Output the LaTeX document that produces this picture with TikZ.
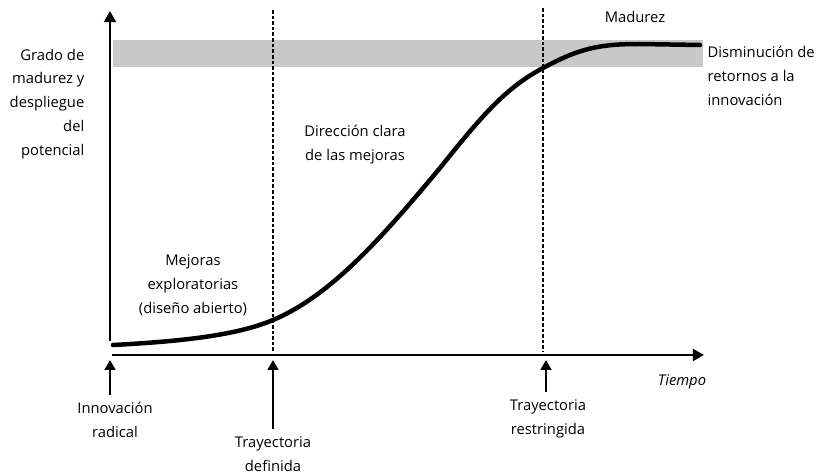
\documentclass[tikz,border=0pt]{standalone}
\usepackage{fontspec}
\setmainfont{Open Sans}
\usepackage{xcolor}
\usetikzlibrary{positioning,arrows.meta}
\definecolor{bandgray}{RGB}{200,200,200}

\begin{document}
\begin{tikzpicture}[x=0.025cm, y=-0.025cm,
  txt/.style={font=\fontsize{10.5}{17}\selectfont, inner sep=1pt},
  axis/.style={line width=1.9pt, -{Triangle[length=8pt,width=8.5pt]}},
  marker/.style={line width=1.7pt, -{Triangle[length=7pt,width=7.5pt]}},
  phase/.style={line width=0.8pt, dash pattern=on 2.5pt off 1.5pt}]
  \useasboundingbox (0,0) rectangle (825,473);

  \fill[bandgray] (113,40) rectangle (703,67);

  \coordinate (O) at (110,341);
  \coordinate (Ytop) at (110,11);
  \coordinate (Xstart) at (112,355);
  \coordinate (Xend) at (704,355);
  \coordinate (T0) at (110,360);
  \coordinate (T1) at (273,360);
  \coordinate (T2) at (546,360);

  \draw[phase] (273,10) -- (273,352);
  \draw[phase] (543,8) -- (543,352);

  \draw[axis] (O) -- (Ytop);
  \draw[axis] (Xstart) -- (Xend);

  \draw[line width=3.2pt, line cap=round]
    (113,345) .. controls (190,341) and (240,334) .. (273,320)
    .. controls (330,296) and (380,240) .. (440,168)
    .. controls (480,118) and (505,88) .. (543,68)
    .. controls (580,48) and (600,44) .. (640,44)
    -- (700,45);

  \node[txt, anchor=east, align=right] (grado) at (86,104)
    {Grado de\\madurez y\\despliegue\\del\\potencial};
  \node[txt] (madurez) at (635,17) {Madurez};
  \node[txt, anchor=west, align=left] (retornos) at (706,76)
    {Disminución de\\retornos a la\\innovación};
  \node[txt, align=center] (direccion) at (355,145)
    {Dirección clara\\de las mejoras};
  \node[txt, align=center] (exploratorias) at (193,285)
    {Mejoras\\exploratorias\\(diseño abierto)};
  \node[txt, font=\fontsize{10.5}{17}\selectfont\itshape] (tiempo) at (682,382) {Tiempo};
  \node[txt, align=center] (radical) at (115,420) {Innovación\\radical};
  \node[txt, align=center] (definida) at (273,454) {Trayectoria\\definida};
  \node[txt, align=center] (restringida) at (548,419) {Trayectoria\\restringida};

  \draw[marker] (radical.north -| T0) ++(0,-6) -- (T0);
  \draw[marker] (definida.north -| T1) ++(0,-6) -- (T1);
  \draw[marker] (restringida.north -| T2) ++(0,-6) -- (T2);
\end{tikzpicture}
\end{document}
